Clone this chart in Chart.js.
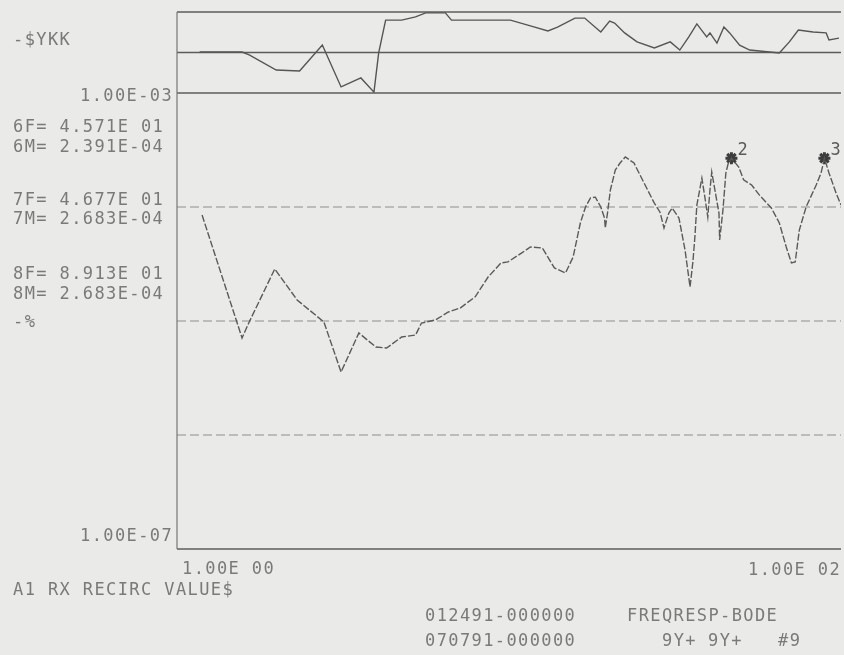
<!DOCTYPE html>
<html>
<head>
<meta charset="utf-8">
<script src="https://cdn.jsdelivr.net/npm/chart.js@4/dist/chart.umd.min.js"></script>
<style>
  html, body { margin: 0; padding: 0; background: #eaeae8; overflow: hidden; }
  #wrap { position: relative; width: 850px; height: 655px; }
  #bode { position: absolute; left: 0; top: 0; }
  .t {
    position: absolute;
    font-family: "DejaVu Sans Mono", monospace;
    font-size: 17px;
    line-height: 17px;
    letter-spacing: 1.4px;
    color: #7a7a7a;
    white-space: pre;
  }
</style>
</head>
<body>
<div id="wrap">
  <canvas id="bode" width="850" height="655"></canvas>

  <div class="t" style="left:13px;top:31px">-$YKK</div>
  <div class="t" style="left:80px;top:87px">1.00E-03</div>
  <div class="t" style="left:13px;top:118px">6F= 4.571E 01</div>
  <div class="t" style="left:13px;top:138px">6M= 2.391E-04</div>
  <div class="t" style="left:13px;top:191px">7F= 4.677E 01</div>
  <div class="t" style="left:13px;top:210px">7M= 2.683E-04</div>
  <div class="t" style="left:13px;top:265px">8F= 8.913E 01</div>
  <div class="t" style="left:13px;top:285px">8M= 2.683E-04</div>
  <div class="t" style="left:13px;top:313px">-%</div>
  <div class="t" style="left:80px;top:527px">1.00E-07</div>
  <div class="t" style="left:182px;top:560px">1.00E 00</div>
  <div class="t" style="left:748px;top:561px">1.00E 02</div>
  <div class="t" style="left:13px;top:581px">A1 RX RECIRC VALUE$</div>
  <div class="t" style="left:425px;top:607px">012491-000000</div>
  <div class="t" style="left:627px;top:607px">FREQRESP-BODE</div>
  <div class="t" style="left:425px;top:632px">070791-000000</div>
  <div class="t" style="left:662px;top:632px">9Y+</div>
  <div class="t" style="left:708px;top:632px">9Y+</div>
  <div class="t" style="left:778px;top:632px">#9</div>
</div>

<script>
// axis limits
const freqRange = [1, 100];
const magRange = [1e-7, 1e-3];
const phaseRange = [-180, 180];
const magGrid = [1e-4, 1e-5, 1e-6];
const phaseGrid = [180, 0, -180];

// magnitude response (Hz, ratio)
const magFreq = [
  1.19, 1.57, 1.65, 1.97, 2.30, 2.77, 3.12, 3.53, 3.97, 4.28,
  4.75, 5.23, 5.45, 6.00, 6.57, 7.13, 7.91, 8.65, 9.46, 9.93,
  10.9, 11.6, 12.6, 13.7, 14.8, 15.6, 16.4, 17.0, 17.6, 18.2,
  18.9, 19.4, 19.5, 19.8, 20.2, 20.9, 21.6, 22.4, 23.8, 25.5,
  27.4, 28.5, 29.3, 30.3, 31.0, 32.5, 33.9, 35.1, 35.8, 36.3,
  36.8, 38.1, 38.9, 39.7, 40.3, 40.8, 41.7, 42.9, 43.1, 44.1,
  45.0, 45.71, 46.77, 49.2, 50.9, 53.8, 56.8, 61.7, 65.2, 68.4,
  70.9, 72.8, 74.9, 78.5, 84.2, 87.1, 89.13, 92.0, 96.6, 100
];
const magValue = [
  8.5e-5, 7.1e-6, 9.8e-6, 2.86e-5, 1.53e-5, 9.8e-6, 3.57e-6, 7.85e-6, 5.92e-6, 5.8e-6,
  7.24e-6, 7.53e-6, 9.6e-6, 1.02e-5, 1.2e-5, 1.3e-5, 1.63e-5, 2.43e-5, 3.23e-5, 3.3e-5,
  3.94e-5, 4.46e-5, 4.37e-5, 2.92e-5, 2.64e-5, 3.64e-5, 7.24e-5, 1.0e-4, 1.2e-4, 1.22e-4,
  1.0e-4, 8.0e-5, 6.55e-5, 8.85e-5, 1.41e-4, 2.11e-4, 2.43e-4, 2.75e-4, 2.43e-4, 1.63e-4,
  1.08e-4, 9.0e-5, 6.55e-5, 8.85e-5, 9.8e-5, 8.0e-5, 4.2e-5, 1.99e-5, 3.3e-5, 5.46e-5,
  1.04e-4, 1.79e-4, 1.22e-4, 8.17e-5, 1.41e-4, 2.03e-4, 1.41e-4, 8.85e-5, 5.14e-5, 9.42e-5,
  1.99e-4, 2.391e-4, 2.683e-4, 2.24e-4, 1.73e-4, 1.56e-4, 1.27e-4, 9.8e-5, 7.24e-5, 4.46e-5,
  3.23e-5, 3.3e-5, 6.28e-5, 1.0e-4, 1.56e-4, 1.99e-4, 2.683e-4, 1.99e-4, 1.33e-4, 1.04e-4
];

// phase response (Hz, degrees)
const phaseFreq = [
  1.17, 1.57, 1.65, 1.99, 2.34, 2.74, 3.12, 3.58, 3.92, 4.05,
  4.25, 4.75, 5.23, 5.61, 6.43, 6.71, 9.27, 10.1, 11.6, 13.1,
  14.0, 15.8, 16.9, 18.9, 20.1, 20.8, 22.3, 24.3, 27.4, 30.6,
  32.7, 34.8, 36.8, 39.4, 40.3, 42.3, 44.4, 46.2, 49.5, 53.1,
  60.9, 65.2, 69.9, 74.4, 82.4, 90.2, 92.0, 98.6
];
const phaseDeg = [
  2, 2, -11, -78, -82, 33, -153, -113, -176, -2,
  144, 144, 158, 176, 176, 144, 144, 144, 118, 96,
  113, 153, 153, 91, 140, 131, 87, 47, 20, 47,
  11, 69, 127, 69, 87, 42, 113, 87, 33, 11,
  2, -2, 47, 100, 91, 87, 56, 64
];

// cursor markers
const markerFreq = [46.77, 89.13];
const markerMag = [2.683e-4, 2.683e-4];
const markerName = ['2', '3'];

const toPoints = (xs, ys) => xs.map((x, i) => ({ x, y: ys[i] }));

// plotter frame and grid lines, plus the marker numbers
const frame = {
  id: 'frame',
  beforeDatasetsDraw(chart) {
    const { ctx, chartArea: a, scales } = chart;
    const hline = (y, color, width, dash) => {
      ctx.save();
      ctx.strokeStyle = color;
      ctx.lineWidth = width;
      ctx.setLineDash(dash);
      ctx.beginPath();
      ctx.moveTo(a.left, y);
      ctx.lineTo(a.right, y);
      ctx.stroke();
      ctx.restore();
    };
    phaseGrid.forEach(v => hline(scales.phase.getPixelForValue(v), '#5c5c5c', 1.5, []));
    magGrid.forEach(v => hline(scales.mag.getPixelForValue(v), '#8e8e8e', 1.1, [9, 4]));
    hline(scales.mag.getPixelForValue(magRange[0]), '#5c5c5c', 1.6, []);

    ctx.save();
    ctx.strokeStyle = '#767676';
    ctx.lineWidth = 1.2;
    ctx.beginPath();
    ctx.moveTo(a.left, a.top);
    ctx.lineTo(a.left, a.bottom);
    ctx.stroke();
    ctx.restore();
  },
  afterDatasetsDraw(chart) {
    const { ctx, scales } = chart;
    ctx.save();
    ctx.font = '17px "DejaVu Sans Mono", monospace';
    ctx.fillStyle = '#5a5a5a';
    ctx.textBaseline = 'middle';
    markerFreq.forEach((f, i) => {
      const x = scales.x.getPixelForValue(f);
      const y = scales.mag.getPixelForValue(markerMag[i]);
      ctx.fillText(markerName[i], x + 6, y - 8);
    });
    ctx.restore();
  }
};

new Chart(document.getElementById('bode'), {
  type: 'line',
  data: {
    datasets: [
      {
        data: toPoints(phaseFreq, phaseDeg),
        yAxisID: 'phase',
        borderColor: '#555555',
        borderWidth: 1.4,
        pointRadius: 0,
        tension: 0
      },
      {
        data: toPoints(magFreq, magValue),
        yAxisID: 'mag',
        borderColor: '#5a5a5a',
        borderWidth: 1.4,
        borderDash: [7, 2],
        pointRadius: 0,
        tension: 0
      },
      {
        data: toPoints(markerFreq, markerMag),
        yAxisID: 'mag',
        showLine: false,
        pointStyle: 'star',
        pointRadius: 6,
        pointBorderWidth: 3,
        pointBorderColor: '#3c3c3c',
        pointBackgroundColor: '#3c3c3c'
      }
    ]
  },
  options: {
    responsive: false,
    animation: false,
    devicePixelRatio: 1,
    layout: { padding: { left: 177, top: 12, right: 5, bottom: 106 } },
    plugins: { legend: { display: false }, tooltip: { enabled: false } },
    scales: {
      x: { type: 'logarithmic', min: freqRange[0], max: freqRange[1], display: false },
      // stacked axes are laid out bottom-up, so the magnitude panel comes first
      mag: {
        type: 'logarithmic', position: 'left', stack: 'bode', stackWeight: 456,
        min: magRange[0], max: magRange[1], display: false
      },
      phase: {
        type: 'linear', position: 'left', stack: 'bode', stackWeight: 81,
        min: phaseRange[0], max: phaseRange[1], display: false
      }
    }
  },
  plugins: [frame]
});
</script>
</body>
</html>
